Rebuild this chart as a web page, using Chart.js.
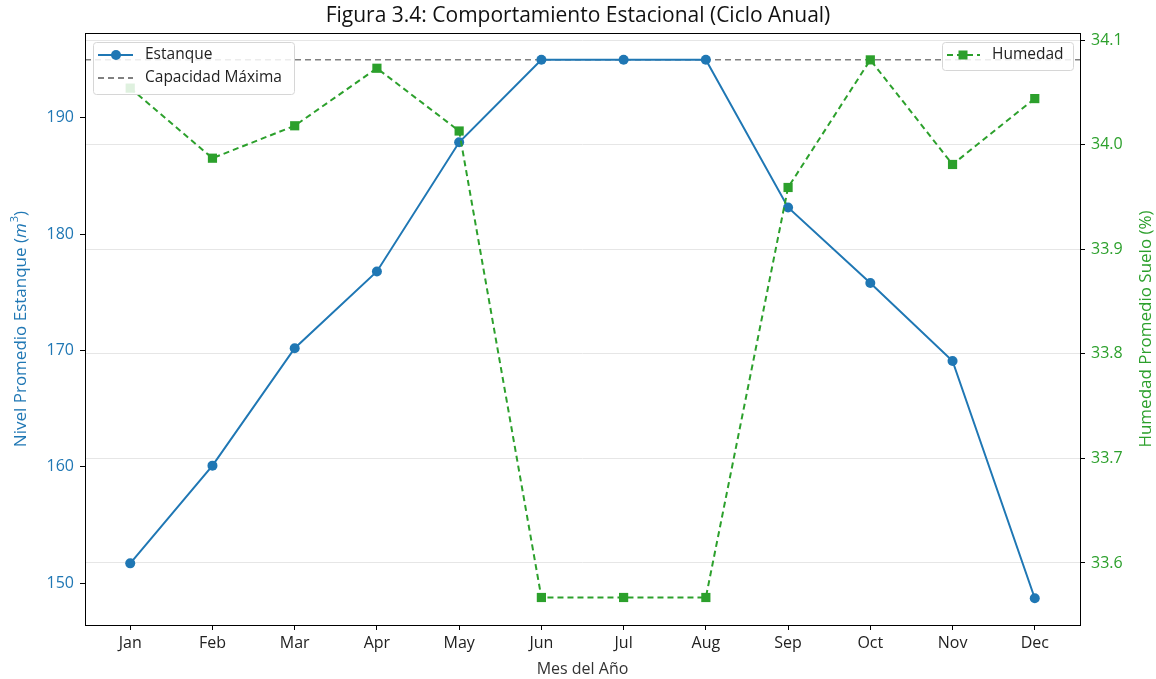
<!DOCTYPE html>
<html>
<head>
<meta charset="utf-8">
<script src="https://cdn.jsdelivr.net/npm/chart.js@4.4.1/dist/chart.umd.min.js"></script>
<style>
  html, body { margin: 0; padding: 0; background: #fff; }
  #wrap { width: 1156px; height: 679px; }
</style>
</head>
<body>
<div id="wrap"><canvas id="chart" width="1156" height="679"></canvas></div>
<script>
// Data
const months = ['Jan', 'Feb', 'Mar', 'Apr', 'May', 'Jun', 'Jul', 'Aug', 'Sep', 'Oct', 'Nov', 'Dec'];
const nivelEstanque = [151.7, 160.1, 170.2, 176.8, 187.9, 195.0, 195.0, 195.0, 182.3, 175.8, 169.1, 148.7];
const humedadSuelo = [34.054, 33.987, 34.018, 34.073, 34.013, 33.567, 33.567, 33.567, 33.959, 34.081, 33.981, 34.044];
const capacidadMaxima = 195;
const leftTicks = [150, 160, 170, 180, 190];
const rightTicks = [33.6, 33.7, 33.8, 33.9, 34.0, 34.1];

const BLUE = '#1f77b4';
const GREEN = '#2ca02c';
const FONT = '"Open Sans", Roboto, sans-serif';

const xMin = -0.55, xMax = months.length - 1 + 0.55;

// Frame round the plot area, axis titles and matplotlib-like legends
const framePlugin = {
    id: 'frame',
    afterDatasetsDraw(chart) {
        const { ctx, chartArea: a } = chart;
        ctx.save();
        ctx.strokeStyle = '#000';
        ctx.lineWidth = 1;
        ctx.strokeRect(a.left + 0.5, a.top + 0.5, a.right - a.left, a.bottom - a.top);

        const midY = (a.top + a.bottom) / 2;

        // left axis title: Nivel Promedio Estanque (m^3) with italic m
        ctx.save();
        ctx.translate(21, midY);
        ctx.rotate(-Math.PI / 2);
        ctx.textBaseline = 'middle';
        ctx.fillStyle = BLUE;
        const p1 = 'Nivel Promedio Estanque (', p2 = 'm', p3 = '3', p4 = ')';
        ctx.font = '17px ' + FONT;
        const w1 = ctx.measureText(p1).width, w4 = ctx.measureText(p4).width;
        ctx.font = 'italic 17px ' + FONT;
        const w2 = ctx.measureText(p2).width;
        ctx.font = '11px ' + FONT;
        const w3 = ctx.measureText(p3).width;
        let x = -(w1 + w2 + w3 + w4 + 1) / 2;
        ctx.textAlign = 'left';
        ctx.font = '17px ' + FONT; ctx.fillText(p1, x, 0); x += w1;
        ctx.font = 'italic 17px ' + FONT; ctx.fillText(p2, x, 0); x += w2 + 1;
        ctx.font = '11px ' + FONT; ctx.fillText(p3, x, -6); x += w3;
        ctx.font = '17px ' + FONT; ctx.fillText(p4, x, 0);
        ctx.restore();

        // right axis title
        ctx.save();
        ctx.translate(1146, midY);
        ctx.rotate(-Math.PI / 2);
        ctx.textAlign = 'center';
        ctx.textBaseline = 'middle';
        ctx.fillStyle = GREEN;
        ctx.font = '17px ' + FONT;
        ctx.fillText('Humedad Promedio Suelo (%)', 0, 0);
        ctx.restore();

        ctx.font = '15.5px ' + FONT;
        ctx.textBaseline = 'middle';

        function box(x, y, w, h) {
            ctx.fillStyle = 'rgba(255,255,255,0.85)';
            ctx.strokeStyle = '#d6d6d6';
            ctx.lineWidth = 1;
            ctx.beginPath();
            ctx.roundRect(x + 0.5, y + 0.5, w, h, 3);
            ctx.fill();
            ctx.stroke();
        }

        // left legend
        box(a.left + 8, a.top + 9, 201, 52);
        ctx.lineWidth = 2;
        ctx.strokeStyle = BLUE;
        ctx.setLineDash([]);
        ctx.beginPath(); ctx.moveTo(a.left + 13, a.top + 22); ctx.lineTo(a.left + 48, a.top + 22); ctx.stroke();
        ctx.fillStyle = BLUE;
        ctx.beginPath(); ctx.arc(a.left + 31, a.top + 22, 5, 0, Math.PI * 2); ctx.fill();
        ctx.strokeStyle = '#808080';
        ctx.setLineDash([6, 4]);
        ctx.beginPath(); ctx.moveTo(a.left + 13, a.top + 45); ctx.lineTo(a.left + 48, a.top + 45); ctx.stroke();
        ctx.setLineDash([]);
        ctx.fillStyle = '#222';
        ctx.fillText('Estanque', a.left + 60, a.top + 22);
        ctx.fillText('Capacidad Máxima', a.left + 60, a.top + 45);

        // right legend
        box(a.right - 138, a.top + 9, 131, 28);
        ctx.strokeStyle = GREEN;
        ctx.lineWidth = 2;
        ctx.setLineDash([6, 4]);
        ctx.beginPath(); ctx.moveTo(a.right - 133, a.top + 22); ctx.lineTo(a.right - 100, a.top + 22); ctx.stroke();
        ctx.setLineDash([]);
        ctx.fillStyle = GREEN;
        ctx.fillRect(a.right - 121.5, a.top + 17.5, 9, 9);
        ctx.fillStyle = '#222';
        ctx.fillText('Humedad', a.right - 88, a.top + 22);
        ctx.restore();
    }
};

const ctx = document.getElementById('chart').getContext('2d');
new Chart(ctx, {
    type: 'line',
    data: {
        datasets: [
            {
                label: 'Capacidad Máxima',
                data: [{ x: xMin, y: capacidadMaxima }, { x: xMax, y: capacidadMaxima }],
                borderColor: '#808080',
                borderWidth: 1.6,
                borderDash: [6, 4],
                pointRadius: 0,
                yAxisID: 'y',
                order: 3
            },
            {
                label: 'Estanque',
                data: nivelEstanque.map((v, i) => ({ x: i, y: v })),
                borderColor: BLUE,
                backgroundColor: BLUE,
                borderWidth: 2,
                pointRadius: 5,
                pointBorderWidth: 0,
                pointStyle: 'circle',
                yAxisID: 'y',
                order: 2
            },
            {
                label: 'Humedad',
                data: humedadSuelo.map((v, i) => ({ x: i, y: v })),
                borderColor: GREEN,
                backgroundColor: GREEN,
                borderWidth: 2,
                borderDash: [6, 4],
                pointRadius: 6.5,
                pointBorderWidth: 0,
                pointStyle: 'rect',
                yAxisID: 'y1',
                order: 1
            }
        ]
    },
    options: {
        responsive: false,
        animation: false,
        layout: { padding: { left: 0, right: 0, top: 0, bottom: 0 } },
        plugins: {
            legend: { display: false },
            tooltip: { enabled: false },
            title: {
                display: true,
                text: 'Figura 3.4: Comportamiento Estacional (Ciclo Anual)',
                color: '#111',
                font: { family: FONT, size: 21, weight: 'normal' },
                padding: { top: 3, bottom: 4.8 }
            }
        },
        scales: {
            x: {
                type: 'linear',
                min: xMin,
                max: xMax,
                afterBuildTicks: axis => { axis.ticks = months.map((m, i) => ({ value: i })); },
                afterFit: scale => { scale.height = 54; },
                ticks: {
                    callback: v => months[v],
                    color: '#222',
                    font: { family: FONT, size: 16 },
                    padding: 4,
                    maxRotation: 0,
                    autoSkip: false
                },
                grid: { drawOnChartArea: false, tickLength: 5, tickColor: '#000' },
                border: { color: '#000' },
                title: {
                    display: true,
                    text: 'Mes del Año',
                    color: '#333',
                    font: { family: FONT, size: 16 },
                    padding: { top: 0, bottom: 0 }
                }
            },
            y: {
                position: 'left',
                min: 146.4,
                max: 197.3,
                afterBuildTicks: axis => { axis.ticks = leftTicks.map(v => ({ value: v })); },
                afterFit: scale => { scale.width = 85; },
                ticks: {
                    color: BLUE,
                    font: { family: FONT, size: 16 },
                    padding: 6
                },
                grid: { drawOnChartArea: false, tickLength: 5, tickColor: '#000' },
                border: { color: '#000' }
            },
            y1: {
                position: 'right',
                min: 33.5407,
                max: 34.1067,
                afterBuildTicks: axis => { axis.ticks = rightTicks.map(v => ({ value: v })); },
                afterFit: scale => { scale.width = 76; },
                ticks: {
                    color: GREEN,
                    font: { family: FONT, size: 16 },
                    padding: 6,
                    callback: v => v.toFixed(1)
                },
                grid: { drawOnChartArea: true, color: '#e6e6e6', tickLength: 5, tickColor: '#000' },
                border: { color: '#000' }
            }
        }
    },
    plugins: [framePlugin]
});
</script>
</body>
</html>
